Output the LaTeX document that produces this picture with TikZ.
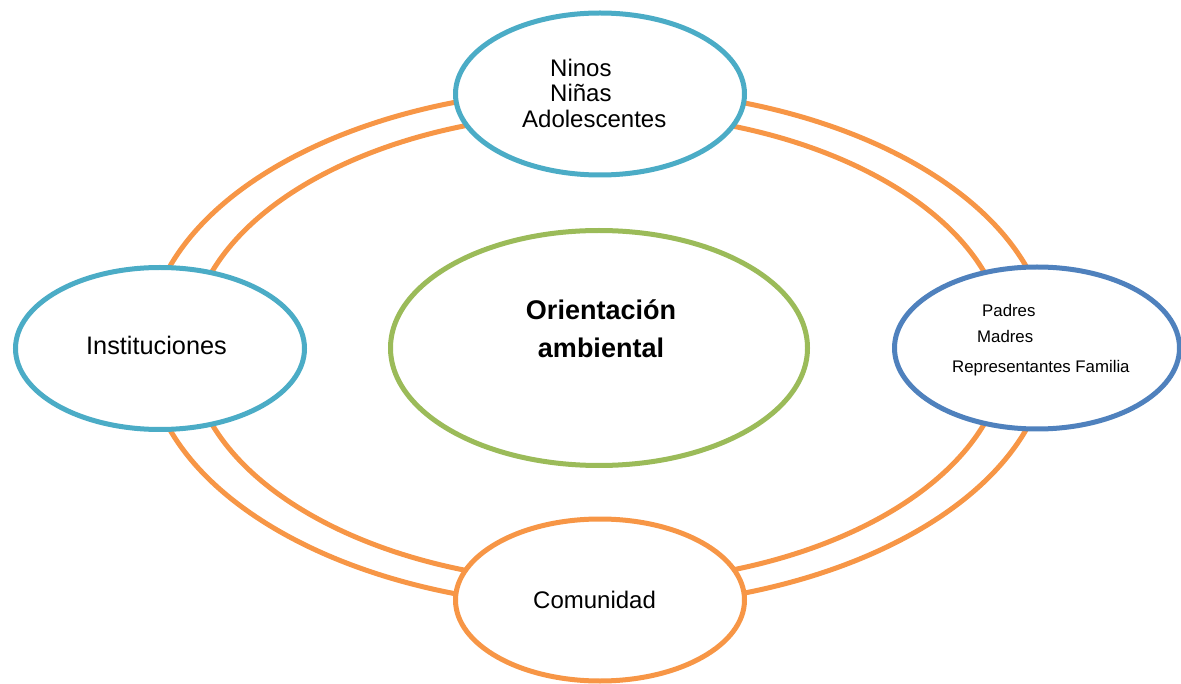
\documentclass[tikz,border=0pt]{standalone}
\usepackage{fontspec}
\setmainfont{Liberation Sans}
\usetikzlibrary{shapes.geometric}
\definecolor{ringorange}{HTML}{F79646}
\definecolor{aqua}{HTML}{4BACC6}
\definecolor{officeblue}{HTML}{4F81BD}
\definecolor{officegreen}{HTML}{9BBB59}
\tikzset{
  ring/.style={draw=ringorange, line width=5pt},
  bubble/.style={ellipse, draw, fill=white, line width=5pt, inner sep=0pt,
    minimum width=289pt, minimum height=162pt},
  lbl/.style={inner sep=0pt, anchor=base west, font=\fontsize{24}{28}\selectfont},
  smalllbl/.style={inner sep=0pt, anchor=base west, font=\fontsize{16.8}{20}\selectfont},
  boldlbl/.style={inner sep=0pt, anchor=base, font=\fontsize{27}{32}\selectfont\bfseries}
}
\begin{document}
\begin{tikzpicture}[x=1pt,y=-1pt]
\useasboundingbox (0,0) rectangle (1181,684);
% ring
\draw[ring] (598,348) ellipse [x radius=451pt, y radius=259pt];
\draw[ring] (598,348) ellipse [x radius=408pt, y radius=235pt];
% nodes
\node[bubble, draw=aqua] (top) at (600,94) {};
\node[bubble, draw=aqua] (left) at (160,348.5) {};
\node[bubble, draw=officeblue, minimum width=285pt] (right) at (1037,348) {};
\node[bubble, draw=ringorange] (bottom) at (600,600) {};
\node[bubble, draw=officegreen, minimum width=417pt, minimum height=235pt] (center) at (599,348) {};
% texts
\node[lbl] (t1) at (550,77) {Ninos};
\node[lbl] (t2) at (550,102) {Niñas};
\node[lbl] (t3) at (522,128) {Adolescentes};
\node[lbl, font=\fontsize{25.3}{30}\selectfont] (l1) at (86,355) {Instituciones};
\node[smalllbl] (r1) at (982,317) {Padres};
\node[smalllbl] (r2) at (977,343) {Madres};
\node[smalllbl] (r3) at (952,373) {Representantes Familia};
\node[lbl] (b1) at (533,608) {Comunidad};
\node[boldlbl] (c1) at (601,320) {Orientación};
\node[boldlbl] (c2) at (601,358) {ambiental};
\end{tikzpicture}
\end{document}
